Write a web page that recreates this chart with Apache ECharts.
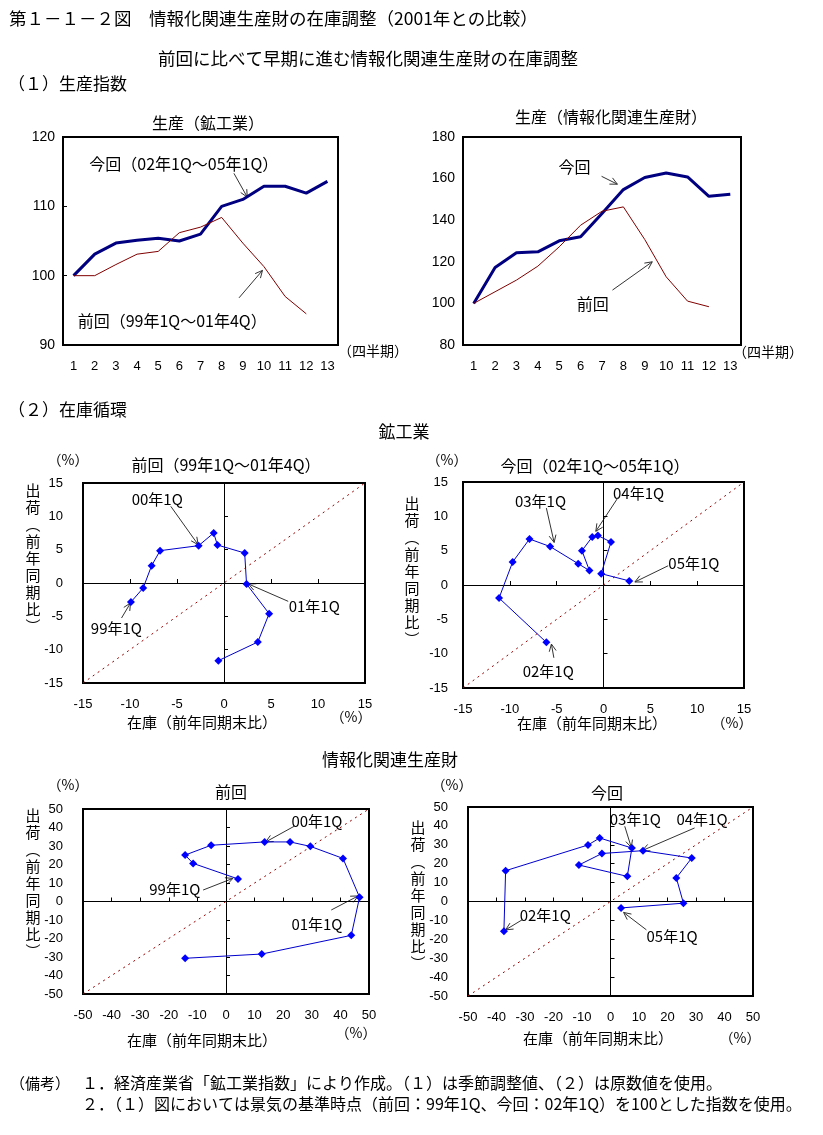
<!DOCTYPE html>
<html><head><meta charset="utf-8">
<script src="https://cdn.jsdelivr.net/npm/echarts@6/dist/echarts.min.js"></script>
<style>html,body{margin:0;padding:0;background:#fff;}#c{width:823px;height:1135px;}</style>
</head><body><div id="c"></div>
<script>
// ---------- DATA ----------
const quarters = ['1','2','3','4','5','6','7','8','9','10','11','12','13'];
// (1) production index (base quarter = 100)
const mfgCurrent  = [100,103.1,104.7,105.1,105.4,105.0,106.0,110.0,111.0,112.9,112.9,111.9,113.6];
const mfgPrevious = [100,100,101.6,103.1,103.5,106.2,107.0,108.4,104.7,101.3,97.0,94.5];
const itCurrent   = [100,117.3,124.3,124.8,130.1,132.0,143.2,154.7,160.5,162.7,160.8,151.5,152.5];
const itPrevious  = [100,105.6,111.2,117.9,127.2,137.6,144.3,146.4,130.7,112.8,101.1,98.4];
// (2) inventory cycle: inventory (x) and shipments (y), % y/y
const mfgPrevInv  = [-9.9,-8.6,-7.7,-6.8,-2.7,-1.1,-0.7,2.2,2.4,4.8,3.6,-0.6];
const mfgPrevShip = [-2.85,-0.75,2.6,4.85,5.6,7.5,5.7,4.5,-0.15,-4.6,-8.85,-11.65];
const mfgCurInv   = [-6.1,-11.15,-9.7,-7.9,-5.7,-2.7,-1.5,-2.3,-1.2,-0.6,0.8,-0.25,2.75];
const mfgCurShip  = [-8.35,-1.9,3.35,6.7,5.6,3.1,2.1,5.0,7.0,7.2,6.25,1.65,0.6];
const itPrevInv   = [4.2,-11.5,-14.3,-5.2,13.5,22.4,29.5,40.9,46.7,43.8,12.5,-14.3];
const itPrevShip  = [12.2,20.6,25.1,30.4,32.2,32.2,29.8,23.3,2.3,-18.3,-28.4,-30.7];
const itCurInv    = [-37.4,-36.8,-7.9,-3.8,7.5,5.9,-11.1,-3.0,11.4,28.5,23.1,25.6,3.7];
const itCurShip   = [-15.7,16.3,29.9,33.6,28.3,13.3,19.3,25.4,26.9,23.0,12.5,-0.9,-3.4];
// axis ranges
const mfgIdxRange = [90,120,10];
const itIdxRange  = [80,180,20];
const mfgCycRange = [-15,15,5];
const itCycRange  = [-50,50,10];

// ---------- LAYOUT / STYLE ----------
const FONT = '"Noto Sans CJK JP","Noto Sans",sans-serif';
const NUM = '"Liberation Sans","DejaVu Sans",sans-serif';
const grids = [
  {left:63, top:137, width:275, height:208},
  {left:463, top:137, width:278, height:208},
  {left:83, top:483, width:282, height:200},
  {left:463, top:482, width:281, height:206},
  {left:83, top:809, width:286, height:185},
  {left:468, top:807, width:285, height:189}
].map(g => Object.assign(g, {show:true, borderColor:'#000', borderWidth:2, backgroundColor:'transparent'}));

const xAxes = [], yAxes = [], series = [];
const zip = (a,b) => a.map((v,i)=>[v,b[i]]);

function idxChart(g, range, cur, prev, ticks) {
  xAxes.push({gridIndex:g, type:'category', data:quarters, boundaryGap:true,
    axisLine:{show:false}, axisTick:{show:false}, splitLine:{show:false},
    axisLabel:{margin:15, fontSize:13, color:'#000', fontFamily:NUM}});
  yAxes.push({gridIndex:g, type:'value', min:range[0], max:range[1], interval:range[2],
    axisLine:{show:false}, splitLine:{show:false},
    axisTick:{show:ticks, inside:true, length:4, lineStyle:{color:'#000'}},
    axisLabel:{margin:8, fontSize:14, color:'#000', fontFamily:NUM}});
  const xi = xAxes.length-1, yi = yAxes.length-1;
  series.push({type:'line', xAxisIndex:xi, yAxisIndex:yi, data:cur, symbol:'none',
    lineStyle:{color:'#000080', width:3}, z:2});
  series.push({type:'line', xAxisIndex:xi, yAxisIndex:yi, data:prev, symbol:'none',
    lineStyle:{color:'#800000', width:1}, z:3});
}
function cycChart(g, range, inv, ship, labMargin) {
  const [mn,mx,iv] = range;
  xAxes.push({gridIndex:g, type:'value', min:mn, max:mx, interval:iv, position:'bottom',
    axisLine:{show:false, onZero:false}, axisTick:{show:false}, splitLine:{show:false},
    axisLabel:{margin:15, fontSize:13, color:'#000', fontFamily:NUM}});
  xAxes.push({gridIndex:g, type:'value', min:mn, max:mx, interval:iv, position:'top',
    axisLine:{show:true, onZero:true, lineStyle:{color:'#000', width:1}},
    axisTick:{show:true, length:4, lineStyle:{color:'#000'}}, axisLabel:{show:false}, splitLine:{show:false}});
  yAxes.push({gridIndex:g, type:'value', min:mn, max:mx, interval:iv, position:'left',
    axisLine:{show:false, onZero:false}, axisTick:{show:false}, splitLine:{show:false},
    axisLabel:{margin:labMargin, fontSize:13, color:'#000', fontFamily:NUM}});
  yAxes.push({gridIndex:g, type:'value', min:mn, max:mx, interval:iv, position:'right',
    axisLine:{show:true, onZero:true, lineStyle:{color:'#000', width:1}},
    axisTick:{show:true, length:4, lineStyle:{color:'#000'}}, axisLabel:{show:false}, splitLine:{show:false}});
  const xi = xAxes.length-2, yi = yAxes.length-2;
  series.push({type:'line', xAxisIndex:xi, yAxisIndex:yi, data:[[mn,mn],[mx,mx]], symbol:'none', silent:true,
    lineStyle:{color:'#990000', width:1, type:[2,4]}, z:1});
  series.push({type:'line', xAxisIndex:xi, yAxisIndex:yi, data:zip(inv,ship), symbol:'diamond', symbolSize:8,
    itemStyle:{color:'#0000ff'}, lineStyle:{color:'#0000cc', width:1}, z:4});
}
idxChart(0, mfgIdxRange, mfgCurrent, mfgPrevious, true);
idxChart(1, itIdxRange, itCurrent, itPrevious, false);
cycChart(2, mfgCycRange, mfgPrevInv, mfgPrevShip, 20);
cycChart(3, mfgCycRange, mfgCurInv, mfgCurShip, 15);
cycChart(4, itCycRange, itPrevInv, itPrevShip, 20);
cycChart(5, itCycRange, itCurInv, itCurShip, 20);

const chart = echarts.init(document.getElementById('c'), null, {renderer:'canvas'});
chart.setOption({animation:false, backgroundColor:'#fff', grid:grids, xAxis:xAxes, yAxis:yAxes, series:series});

// ---------- TEXT & ANNOTATIONS ----------
const G = [];
function txt(text, x, y, size, align, valign, family) {
  G.push({type:'text', silent:true, style:{text, x, y, font: size+'px '+(family||FONT), fill:'#000',
    align:align||'left', verticalAlign:valign||'middle', textAlign:align||'left', textVerticalAlign:valign||'middle'}});
}
function vtxt(text, x, y) {
  G.push({type:'text', silent:true, style:{text:text.split('').join('\n'), x, y, fontSize:15, fontFamily:FONT,
    lineHeight:17, fill:'#000', align:'center', verticalAlign:'top', textAlign:'center', textVerticalAlign:'top'}});
}
txt('第１－１－２図　情報化関連生産財の在庫調整（2001年との比較）', 9, 18, 17.5);
txt('前回に比べて早期に進む情報化関連生産財の在庫調整', 368, 58, 17.5, 'center');
txt('（１）生産指数', 8, 84, 17);
txt('生産（鉱工業）', 208, 123, 16, 'center');
txt('生産（情報化関連生産財）', 611, 117, 16, 'center');
txt('（四半期）', 338, 351, 14);
txt('（四半期）', 733, 352, 14);
txt('（２）在庫循環', 8, 410, 17);
txt('鉱工業', 404, 432, 17, 'center');
txt('前回（99年1Q～01年4Q）', 226, 465, 16, 'center');
txt('今回（02年1Q～05年1Q）', 595, 466, 16, 'center');
txt('情報化関連生産財', 390, 760, 17, 'center');
txt('前回', 231, 792, 16, 'center');
txt('今回', 607, 793, 16, 'center');
[[68,460],[447,460],[68,785],[452,785]].forEach(p => txt('（%）', p[0], p[1], 14, 'center'));
[[202,722],[592,723],[202,1040],[598,1038]].forEach(p => txt('在庫（前年同期末比）', p[0], p[1], 15, 'center'));
[[351,717],[732,723],[356,1033],[740,1038]].forEach(p => txt('（%）', p[0], p[1], 14, 'center'));
[[33,482],[412,495],[33,807],[418,819]].forEach(p => vtxt('出荷︵前年同期比︶', p[0], p[1]));
txt('（備考）', 10, 1083, 15);
txt('１．経済産業省「鉱工業指数」により作成。（１）は季節調整値、（２）は原数値を使用。', 82, 1083, 16);
txt('２．（１）図においては景気の基準時点（前回：99年1Q、今回：02年1Q）を100とした指数を使用。', 82, 1104, 16);

// annotations in data coordinates: [xAxisIndex, yAxisIndex, isCategory, text, textAt, arrowFrom, arrowTo, fontSize]
const notes = [
  [0,0,true,'今回（02年1Q～05年1Q）',[6.21,116.1],[8.58,114.76],[9.21,111.33],16],
  [0,0,true,'前回（99年1Q～01年4Q）',[5.66,93.48],[8.82,96.8],[9.93,100.76],16],
  [1,1,true,'今回',[5.71,165.6],[6.98,161.1],[7.72,157.3],16],
  [1,1,true,'前回',[6.57,99.7],[7.49,106.4],[9.35,120],16],
  [2,2,false,'00年1Q',[-7.1,12.6],[-5.66,11.5],[-2.75,5.75],15],
  [2,2,false,'01年1Q',[9.6,-3.5],[6.83,-2.75],[2.6,-0.15],15],
  [2,2,false,'99年1Q',[-11.45,-6.85],[-10.9,-5.25],[-9.95,-3.0],15],
  [4,4,false,'03年1Q',[-6.73,12.2],[-6.1,11.2],[-5.27,6.2],15],
  [4,4,false,'04年1Q',[3.74,13.4],[1.57,12.77],[-0.82,7.82],15],
  [4,4,false,'05年1Q',[9.65,3.1],[6.9,2.8],[3.35,0.44],15],
  [4,4,false,'02年1Q',[-5.9,-12.6],[-5.3,-10.6],[-5.56,-8.6],15],
  [6,6,false,'00年1Q',[31.8,43.2],[24,40.8],[13.9,32.2],15],
  [6,6,false,'99年1Q',[-17.9,6.6],[-8,6.2],[2.4,12.5],15],
  [6,6,false,'01年1Q',[31.8,-12.2],[36.8,-4.6],[46.2,3.0],15],
  [8,8,false,'03年1Q',[8.7,43.3],[5.0,39.8],[7.3,28.6],15],
  [8,8,false,'04年1Q',[32.1,43.3],[29.5,38.9],[11.2,27.0],15],
  [8,8,false,'02年1Q',[-22.9,-7.4],[-30.7,-9.4],[-36.8,-15.0],15],
  [8,8,false,'05年1Q',[21.6,-18.6],[12.6,-15.0],[4.6,-5.8],15]
];
function toPx(xa, ya, cat, p) {
  const f = {xAxisIndex:xa, yAxisIndex:ya};
  if (!cat) return chart.convertToPixel(f, p);
  const a = chart.convertToPixel(f, [0, p[1]]), b = chart.convertToPixel(f, [1, p[1]]);
  return [a[0] + (p[0]-1)*(b[0]-a[0]), a[1]];
}
notes.forEach(n => {
  const [xa,ya,cat,text,at,from,to,fs] = n;
  const t = toPx(xa,ya,cat,at), a = toPx(xa,ya,cat,from), b = toPx(xa,ya,cat,to);
  txt(text, t[0], t[1], fs, 'center');
  G.push({type:'line', silent:true, shape:{x1:a[0], y1:a[1], x2:b[0], y2:b[1]}, style:{stroke:'#333', lineWidth:1}});
  const ang = Math.atan2(b[1]-a[1], b[0]-a[0]), L = 8, W = 0.45;
  G.push({type:'polyline', silent:true, shape:{points:[
    [b[0]-L*Math.cos(ang-W), b[1]-L*Math.sin(ang-W)], [b[0], b[1]],
    [b[0]-L*Math.cos(ang+W), b[1]-L*Math.sin(ang+W)]]},
    style:{stroke:'#333', lineWidth:1, fill:null}});
});
chart.setOption({graphic:{elements:G}});
</script></body></html>
